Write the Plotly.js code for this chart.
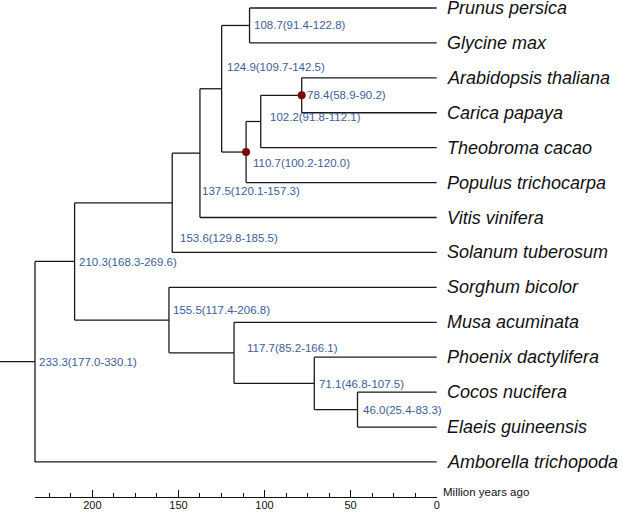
<!DOCTYPE html>
<html>
<head>
<meta charset="utf-8">
<script src="https://cdn.plot.ly/plotly-3.0.1.min.js"></script>
<style>html,body{margin:0;padding:0;background:#fff;}#chart{width:623px;height:512px;}</style>
</head>
<body>
<div id="chart"></div>
<script>
// ---------- data ----------
const leaves = ["Prunus persica","Glycine max","Arabidopsis thaliana","Carica papaya","Theobroma cacao",
  "Populus trichocarpa","Vitis vinifera","Solanum tuberosum","Sorghum bicolor","Musa acuminata",
  "Phoenix dactylifera","Cocos nucifera","Elaeis guineensis","Amborella trichopoda"];
const nodeIds = ["n0","n1","n2","n3","n4","n5","n6","n7","n8","n9","n10","n11","n12"];
const nodeAges = [108.7, 78.4, 102.2, 110.7, 124.9, 137.5, 153.6, 46.0, 71.1, 117.7, 155.5, 210.3, 233.3];
const nodeCI = ["91.4-122.8","58.9-90.2","91.8-112.1","100.2-120.0","109.7-142.5","120.1-157.3",
  "129.8-185.5","25.4-83.3","46.8-107.5","85.2-166.1","117.4-206.8","168.3-269.6","177.0-330.1"];
const nodeChildren = [
  ["Prunus persica","Glycine max"],
  ["Arabidopsis thaliana","Carica papaya"],
  ["n1","Theobroma cacao"],
  ["n2","Populus trichocarpa"],
  ["n0","n3"],
  ["n4","Vitis vinifera"],
  ["n5","Solanum tuberosum"],
  ["Cocos nucifera","Elaeis guineensis"],
  ["Phoenix dactylifera","n7"],
  ["Musa acuminata","n8"],
  ["Sorghum bicolor","n9"],
  ["n6","n10"],
  ["n11","Amborella trichopoda"]
];
const calibrated = ["n1","n3"];
const majorTicks = [200,150,100,50,0];
const axisTitle = "Million years ago";

// ---------- layout / style (pixel placement, not data) ----------
const W = 623, H = 512;
const AXL = 35, AXR = 436.7;           // pixel ends of time ruler
const labelDX = [4.5,5,9,7,5,2,8,5,5,13,4.5,4,4];
const labelDY = [0,0,-4,11,-22,38,35,0,1,-5,-10,1,0];
const rootStemAge = 300;

// ---------- tree geometry ----------
const rootAge = Math.max(...nodeAges);
const k = (AXR - AXL) / rootAge;
const xRange = [rootAge + AXL / k, -(W - AXR) / k];
const info = {};
leaves.forEach((n, i) => info[n] = {x: 0, y: -i});
function place(id) {
  if (info[id]) return info[id];
  const i = nodeIds.indexOf(id);
  const ch = nodeChildren[i].map(place);
  info[id] = {x: nodeAges[i], y: ch.reduce((s, c) => s + c.y, 0) / ch.length};
  return info[id];
}
nodeIds.forEach(place);

const lx = [], ly = [];
nodeIds.forEach((id, i) => {
  const p = info[id];
  const ch = nodeChildren[i].map(c => info[c]);
  const ys = ch.map(c => c.y);
  lx.push(p.x, p.x, null); ly.push(Math.min(...ys), Math.max(...ys), null);
  ch.forEach(c => { lx.push(p.x, c.x, null); ly.push(c.y, c.y, null); });
});
const root = info[nodeIds[nodeAges.indexOf(rootAge)]];
lx.push(rootStemAge, root.x, null); ly.push(root.y, root.y, null);

const traces = [
  {type: "scatter", mode: "lines", x: lx, y: ly, xaxis: "x", yaxis: "y",
   line: {color: "#1a1a1a", width: 1.3}, hoverinfo: "skip", showlegend: false},
  {type: "scatter", mode: "markers", x: calibrated.map(c => info[c].x), y: calibrated.map(c => info[c].y),
   xaxis: "x", yaxis: "y", marker: {color: "#7a0a0a", size: 8}, hoverinfo: "skip", showlegend: false},
  {type: "scatter", mode: "lines", x: [rootAge, 0], y: [null, null], xaxis: "x2", yaxis: "y",
   hoverinfo: "skip", showlegend: false}
];

const ann = [];
leaves.forEach((n, i) => ann.push({
  x: 0, y: info[n].y, xref: "x", yref: "y", text: "<i>" + n + "</i>", showarrow: false,
  xanchor: "left", yanchor: "middle", xshift: 10, borderpad: 0, borderwidth: 0,
  font: {family: "Liberation Sans, Arial, sans-serif", size: 18, color: "#111"}
}));
nodeIds.forEach((id, i) => ann.push({
  x: info[id].x, y: info[id].y, xref: "x", yref: "y",
  text: nodeAges[i].toFixed(1) + "(" + nodeCI[i] + ")", showarrow: false,
  xanchor: "left", yanchor: "middle", xshift: labelDX[i], yshift: -labelDY[i],
  borderpad: 0, borderwidth: 0,
  font: {family: "Liberation Sans, Arial, sans-serif", size: 11.5, color: "#3f5d97"}
}));
ann.push({x: 0, y: 0, xref: "x", yref: "paper", text: axisTitle, showarrow: false,
  xanchor: "left", yanchor: "middle", xshift: 6, yshift: 5, borderpad: 0, borderwidth: 0,
  font: {family: "Liberation Sans, Arial, sans-serif", size: 11.5, color: "#111"}});

const minorVals = [];
for (let v = 0; v <= rootAge; v += 12.5) if (!majorTicks.includes(v)) minorVals.push(v);

const layout = {
  width: W, height: H,
  margin: {l: 0, r: 0, t: 0, b: 15},
  paper_bgcolor: "#fff", plot_bgcolor: "rgba(0,0,0,0)",
  showlegend: false,
  xaxis: {range: xRange, visible: false, fixedrange: true},
  xaxis2: {domain: [AXL / W, AXR / W], range: [rootAge, 0], anchor: "y",
    showline: true, linecolor: "#111", linewidth: 1, showgrid: false, zeroline: false,
    ticks: "inside", ticklen: 7, tickwidth: 1, tickcolor: "#111",
    tickmode: "array", tickvals: majorTicks, ticktext: majorTicks.map(String),
    ticklabelstandoff: -2,
    minor: {tickmode: "array", tickvals: minorVals, ticks: "inside", ticklen: 4, tickwidth: 1, tickcolor: "#111", showgrid: false},
    tickfont: {family: "Liberation Sans, Arial, sans-serif", size: 11, color: "#111"}},
  yaxis: {range: [-14.003, 0.229], visible: false, fixedrange: true},
  annotations: ann
};
Plotly.newPlot("chart", traces, layout, {staticPlot: true});
</script>
</body>
</html>
